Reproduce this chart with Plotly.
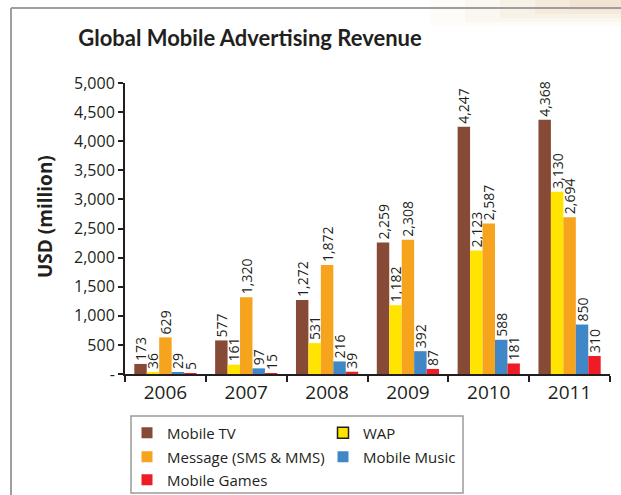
import plotly.graph_objects as go

# Global mobile advertising revenue, USD million
years = ["2006", "2007", "2008", "2009", "2010", "2011"]
mobile_tv = [173, 577, 1272, 2259, 4247, 4368]
wap = [36, 161, 531, 1182, 2123, 3130]
message = [629, 1320, 1872, 2308, 2587, 2694]
mobile_music = [29, 97, 216, 392, 588, 850]
mobile_games = [5, 15, 39, 87, 181, 310]

series_names = ["Mobile TV", "WAP", "Message (SMS & MMS)", "Mobile Music", "Mobile Games"]
series_values = [mobile_tv, wap, message, mobile_music, mobile_games]
series_colors = ["#874A36", "#FFE400", "#F6A31E", "#3F87C7", "#EE1D25"]
# legend row for each series (two entries per row)
legend_rows = ["legend", "legend", "legend2", "legend2", "legend3"]

y_tick_vals = [0, 500, 1000, 1500, 2000, 2500, 3000, 3500, 4000, 4500, 5000]
y_tick_text = ["-", "500", "1,000", "1,500", "2,000", "2,500", "3,000",
               "3,500", "4,000", "4,500", "5,000"]

FONT = "Open Sans"
TITLE_FONT = "Lato"
INK = "#231F20"

W, H = 621, 495
L, R, T, B = 125, 11, 83, 121
PW, PH = W - L - R, H - T - B


def px(x):
    return (x - L) / PW


def py(y):
    return (H - B - y) / PH


fig = go.Figure()

for name, vals, col in zip(series_names, series_values, series_colors):
    fig.add_trace(go.Bar(
        x=years, y=vals, name=name,
        marker=dict(color=col, line=dict(width=0)),
        text=[f"{v:,}" for v in vals],
        textposition="outside",
        textangle=-90,
        constraintext="none",
        cliponaxis=False,
        textfont=dict(family=FONT, size=14, color=INK),
        showlegend=False,
    ))

# legend entries drawn as square markers
for name, col, lg in zip(series_names, series_colors, legend_rows):
    is_wap = name == "WAP"
    fig.add_trace(go.Scatter(
        x=[None], y=[None], mode="markers", name=name, legend=lg,
        marker=dict(symbol="square", size=11, color=col,
                    line=dict(color=INK if is_wap else col, width=1.5 if is_wap else 0)),
    ))


def legend_row(y_center):
    return dict(orientation="h", x=px(127), y=py(y_center),
                xanchor="left", yanchor="middle",
                entrywidth=151, entrywidthmode="pixels",
                borderwidth=0, bgcolor="rgba(0,0,0,0)",
                font=dict(family=FONT, size=15, color=INK),
                itemwidth=30, tracegroupgap=0)


fig.update_layout(
    width=W, height=H,
    margin=dict(l=L, r=R, t=T, b=B, autoexpand=False),
    paper_bgcolor="white", plot_bgcolor="white",
    barmode="group", bargap=0.23, bargroupgap=0,
    font=dict(family=FONT, color=INK),
    title=dict(text="<b>Global Mobile Advertising Revenue</b>",
               x=250 / W, xanchor="center", y=1 - 38 / H, yanchor="middle",
               font=dict(family=TITLE_FONT, size=22, color=INK)),
    legend=legend_row(433),
    legend2=legend_row(457),
    legend3=legend_row(480),
)

fig.update_xaxes(
    showline=True, linecolor=INK, linewidth=2,
    ticks="outside", tickson="boundaries", ticklen=6, tickwidth=2, tickcolor=INK,
    tickfont=dict(family=FONT, size=19, color=INK),
    showgrid=False, zeroline=False,
)
fig.update_yaxes(
    range=[0, 5000], tickvals=y_tick_vals, ticktext=y_tick_text,
    showline=True, linecolor=INK, linewidth=2,
    ticks="outside", ticklen=5, tickwidth=2, tickcolor=INK,
    tickfont=dict(family=FONT, size=16, color=INK),
    showgrid=False, zeroline=False,
)

fig.add_annotation(
    text="<b>USD (million)</b>", textangle=-90,
    xref="paper", yref="paper", x=px(45), y=py(217),
    xanchor="center", yanchor="middle",
    showarrow=False, font=dict(family=FONT, size=19, color=INK),
)

# legend frame
fig.add_shape(type="rect", xref="paper", yref="paper",
              x0=px(131), x1=px(463), y0=py(416), y1=py(493),
              line=dict(color="#9A9A9A", width=1.5), fillcolor="rgba(0,0,0,0)")

# warm haze along the top-right edge
for i, op in enumerate([0.08, 0.12, 0.16, 0.20, 0.24]):
    x0 = 430 + i * 35
    fig.add_shape(type="rect", xref="paper", yref="paper",
                  x0=px(x0), x1=px(W), y0=py(26 - i * 4), y1=py(0),
                  line=dict(width=0), fillcolor="#EBD3B5", opacity=op, layer="below")

# page frame: top and left rules
fig.add_shape(type="line", xref="paper", yref="paper",
              x0=px(11), x1=px(W), y0=py(8), y1=py(8),
              line=dict(color="#9E9E9E", width=2))
fig.add_shape(type="line", xref="paper", yref="paper",
              x0=px(11), x1=px(11), y0=py(8), y1=py(H),
              line=dict(color="#9E9E9E", width=2))

fig.write_html("out.html")
